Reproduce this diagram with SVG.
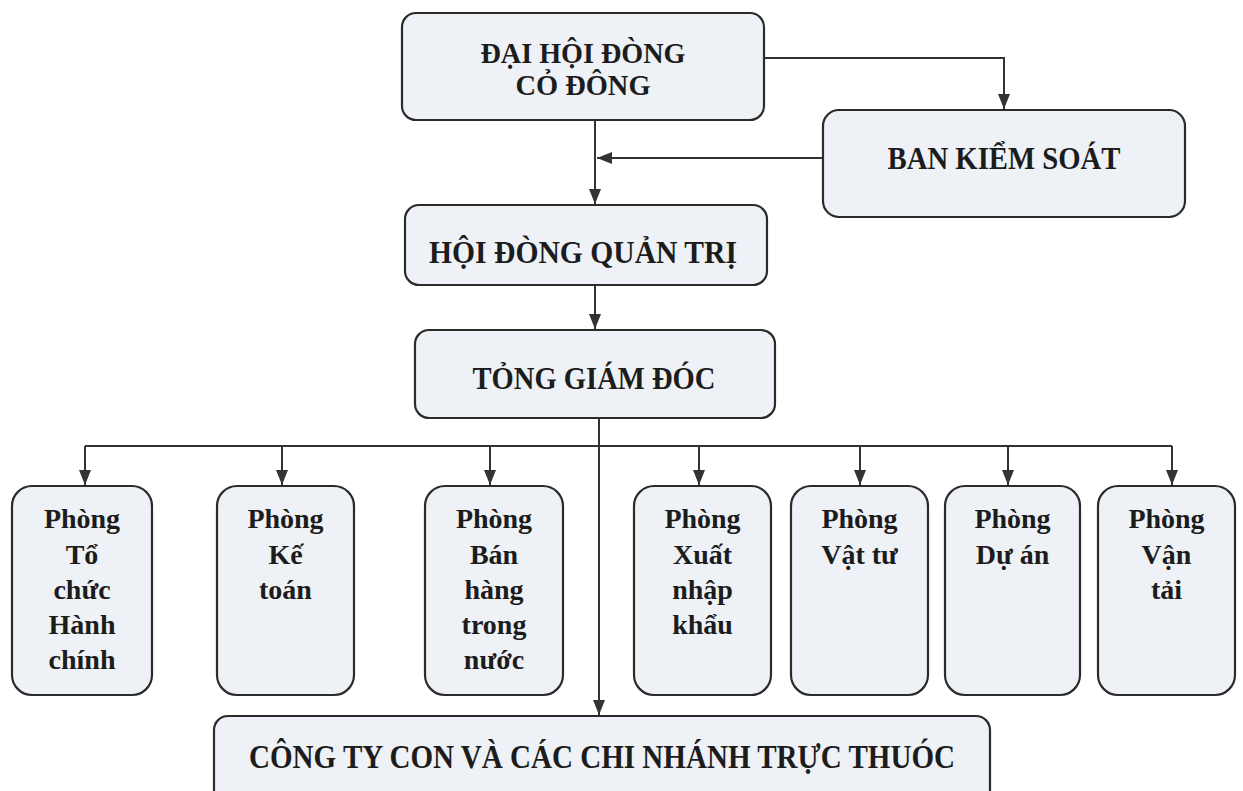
<svg xmlns="http://www.w3.org/2000/svg" width="1243" height="791" viewBox="0 0 1243 791">
<style>
.box{fill:#eef2f6;stroke:#2b2b2b;stroke-width:2.2}
.t{font-family:"Liberation Serif","Times New Roman",serif;font-weight:bold;fill:#1c1c1c;text-anchor:middle}
.h{font-size:31px}
.h2{font-size:29px}
.d{font-size:28px}
.b{font-size:33px}
.c{fill:none;stroke:#333;stroke-width:2}
</style>
<defs>
<marker id="ah" markerUnits="userSpaceOnUse" markerWidth="16" markerHeight="12" refX="15" refY="6" orient="auto">
<path d="M0,0 L15,6 L0,12 z" fill="#333"/>
</marker>
</defs>
<rect width="1243" height="791" fill="#ffffff"/>
<g id="connectors">
<path class="c" d="M595,120 V204" marker-end="url(#ah)"/>
<path class="c" d="M764,58 H1004 V109" marker-end="url(#ah)"/>
<path class="c" d="M823,158 H597" marker-end="url(#ah)"/>
<path class="c" d="M595,285 V329" marker-end="url(#ah)"/>
<path class="c" d="M599,418 V715" marker-end="url(#ah)"/>
<path class="c" d="M85,446 H1172"/>
<path class="c" d="M85,446 V485" marker-end="url(#ah)"/>
<path class="c" d="M282,446 V485" marker-end="url(#ah)"/>
<path class="c" d="M490,446 V485" marker-end="url(#ah)"/>
<path class="c" d="M699,446 V485" marker-end="url(#ah)"/>
<path class="c" d="M860,446 V485" marker-end="url(#ah)"/>
<path class="c" d="M1008,446 V485" marker-end="url(#ah)"/>
<path class="c" d="M1172,446 V485" marker-end="url(#ah)"/>
</g>
<g id="dhdcd">
<rect class="box" x="402" y="13" width="362" height="107" rx="14"/>
<text class="t h2" x="583" y="63" textLength="205" lengthAdjust="spacingAndGlyphs">ĐẠI HỘI ĐÒNG</text>
<text class="t h2" x="583" y="95" textLength="135" lengthAdjust="spacingAndGlyphs">CỎ ĐÔNG</text>
</g>
<g id="bks">
<rect class="box" x="823" y="110" width="362" height="107" rx="16"/>
<text class="t h" x="1004" y="169" textLength="233" lengthAdjust="spacingAndGlyphs">BAN KIỂM SOÁT</text>
</g>
<g id="hdqt">
<rect class="box" x="405" y="205" width="362" height="80" rx="14"/>
<text class="t h" x="583" y="263" textLength="308" lengthAdjust="spacingAndGlyphs">HỘI ĐÒNG QUẢN TRỊ</text>
</g>
<g id="tgd">
<rect class="box" x="415" y="330" width="360" height="88" rx="14"/>
<text class="t h" x="594" y="389" textLength="243" lengthAdjust="spacingAndGlyphs">TỎNG GIÁM ĐÓC</text>
</g>
<g id="p1">
<rect class="box" x="12" y="486" width="140" height="209" rx="20"/>
<text class="t d" x="82" y="528">Phòng</text>
<text class="t d" x="82" y="564">Tổ</text>
<text class="t d" x="82" y="599">chức</text>
<text class="t d" x="82" y="634">Hành</text>
<text class="t d" x="82" y="669">chính</text>
</g>
<g id="p2">
<rect class="box" x="217" y="486" width="137" height="209" rx="20"/>
<text class="t d" x="285.5" y="528">Phòng</text>
<text class="t d" x="285.5" y="564">Kế</text>
<text class="t d" x="285.5" y="599">toán</text>
</g>
<g id="p3">
<rect class="box" x="425" y="486" width="138" height="209" rx="20"/>
<text class="t d" x="494" y="528">Phòng</text>
<text class="t d" x="494" y="564">Bán</text>
<text class="t d" x="494" y="599">hàng</text>
<text class="t d" x="494" y="634">trong</text>
<text class="t d" x="494" y="669">nước</text>
</g>
<g id="p4">
<rect class="box" x="634" y="486" width="137" height="209" rx="20"/>
<text class="t d" x="702.5" y="528">Phòng</text>
<text class="t d" x="702.5" y="564">Xuất</text>
<text class="t d" x="702.5" y="599">nhập</text>
<text class="t d" x="702.5" y="634">khẩu</text>
</g>
<g id="p5">
<rect class="box" x="791" y="486" width="137" height="209" rx="20"/>
<text class="t d" x="859.5" y="528">Phòng</text>
<text class="t d" x="859.5" y="564">Vật tư</text>
</g>
<g id="p6">
<rect class="box" x="945" y="486" width="135" height="209" rx="20"/>
<text class="t d" x="1012.5" y="528">Phòng</text>
<text class="t d" x="1012.5" y="564">Dự án</text>
</g>
<g id="p7">
<rect class="box" x="1098" y="486" width="137" height="209" rx="20"/>
<text class="t d" x="1166.5" y="528">Phòng</text>
<text class="t d" x="1166.5" y="564">Vận</text>
<text class="t d" x="1166.5" y="599">tải</text>
</g>
<g id="ctcon">
<rect class="box" x="214" y="716" width="776" height="100" rx="14"/>
<text class="t b" x="602" y="768" textLength="706" lengthAdjust="spacingAndGlyphs">CÔNG TY CON VÀ CÁC CHI NHÁNH TRỰC THUÓC</text>
</g>
</svg>
